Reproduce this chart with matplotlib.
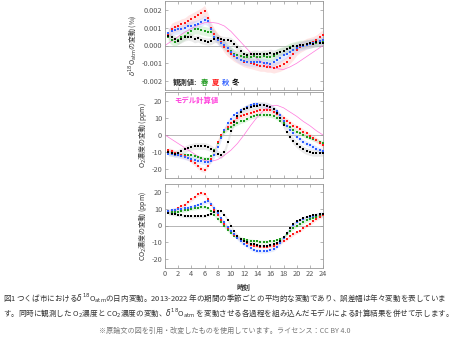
import numpy as np
import matplotlib
matplotlib.use("Agg")
import matplotlib.pyplot as plt

plt.rcParams['font.family'] = ['Noto Sans CJK JP', 'DejaVu Sans']
plt.rcParams['mathtext.fontset'] = 'dejavusans'

# 時刻 (0.5 時間ごと)
hours = np.arange(0.5, 24.01, 0.5)
model_hours = np.arange(0, 25, 1)

seasons = ['春', '夏', '秋', '冬']
colors = ['#1f9a1f', '#ff1a1a', '#2f5fff', '#000000']
band_colors = ['#9be09b', '#ffaaaa', '#a8c0ff', '#bbbbbb']

# δ18Oatm の変動 (x 1e-3 ‰)
d18_spring = [0.45, 0.3, 0.2, 0.3, 0.45, 0.55, 0.7, 0.8, 0.9, 0.9, 0.85, 0.82,
              0.78, 0.75, 0.65, 0.4, 0.2, 0.0, -0.15, -0.3, -0.45, -0.55, -0.6, -0.62,
              -0.65, -0.62, -0.6, -0.65, -0.62, -0.6, -0.62, -0.65, -0.6, -0.45, -0.35, -0.3,
              -0.2, -0.1, -0.05, 0.0, 0.05, 0.05, 0.1, 0.1, 0.15, 0.15, 0.2, 0.2]
d18_summer = [0.62, 0.95, 1.05, 1.1, 1.2, 1.25, 1.4, 1.5, 1.6, 1.7, 1.8, 1.95,
              1.55, 1.0, 0.65, 0.4, 0.2, -0.1, -0.3, -0.45, -0.6, -0.7, -0.8, -0.9,
              -0.95, -1.0, -1.05, -1.1, -1.15, -1.15, -1.2, -1.2, -1.25, -1.2, -1.15, -1.05,
              -0.9, -0.7, -0.5, -0.25, -0.1, 0.0, 0.1, 0.15, 0.2, 0.3, 0.45, 0.6]
d18_autumn = [0.7, 0.8, 0.85, 0.9, 0.9, 1.0, 1.08, 1.12, 1.15, 1.2, 1.3, 1.45,
              1.35, 0.95, 0.5, 0.3, 0.15, 0.05, -0.15, -0.35, -0.55, -0.7, -0.8, -0.85,
              -0.9, -0.92, -0.95, -0.95, -0.95, -0.97, -1.0, -1.05, -0.95, -0.8, -0.7, -0.55,
              -0.45, -0.35, -0.25, -0.15, -0.05, 0.0, 0.05, 0.1, 0.15, 0.2, 0.25, 0.3]
d18_winter = [0.55, 0.45, 0.35, 0.25, 0.35, 0.45, 0.5, 0.45, 0.35, 0.4, 0.3, 0.25,
              0.22, 0.25, 0.35, 0.4, 0.35, 0.3, 0.3, 0.25, 0.1, -0.1, -0.3, -0.5,
              -0.55, -0.5, -0.45, -0.45, -0.5, -0.45, -0.45, -0.4, -0.45, -0.4, -0.35, -0.3,
              -0.2, -0.15, -0.05, 0.0, 0.05, 0.05, 0.1, 0.15, 0.1, 0.2, 0.15, 0.15]
d18_model = [0, 0.25, 0.5, 0.75, 0.95, 1.15, 1.28, 1.3, 1.25, 1.1, 0.8, 0.4, 0.0,
             -0.4, -0.75, -1.0, -1.2, -1.3, -1.35, -1.2, -1.0, -0.75, -0.5, -0.25, 0]
d18_err = [0.25, 0.3, 0.25, 0.2]

# O2 濃度の変動 (ppm)
o2_spring = [-10, -10.5, -11, -11, -11.5, -11.5, -12, -12, -12.5, -13, -13.5, -14,
             -14, -12.5, -9, -4.5, -0.5, 2, 3.5, 5, 6, 7, 8, 8.5,
             9.5, 10.5, 11, 11.5, 11.8, 12, 11.8, 11.5, 11, 10, 8.5, 7,
             5.5, 4.5, 3, 2, 1, 0, -1, -1.5, -2.5, -3, -4, -4.5]
o2_summer = [-9, -9.5, -10.5, -11, -12, -12.5, -13.5, -15, -16.5, -18.5, -20, -20.5,
             -18, -14, -9.5, -4, 0, 3, 5, 7, 8.5, 10, 11, 11.5,
             12.5, 13, 13.8, 14.2, 14.5, 14.8, 14.8, 14.5, 13.5, 12.5, 11.5, 10,
             8.5, 7, 5.5, 4.5, 3.5, 2, 1, -0.5, -1.5, -3, -4.5, -6]
o2_autumn = [-11, -11, -11.5, -12, -12.5, -13, -13.5, -14, -14.5, -15, -15.5, -16,
             -16, -15, -12, -7, -2, 3, 7, 9.5, 11.5, 13, 14.5, 15.5,
             16.5, 17.5, 18, 18, 17.8, 17.5, 17, 16.5, 15.5, 14, 11.5, 8.5,
             5.5, 3, 1, -1, -2.5, -4, -5, -6, -7, -8, -9, -9.5]
o2_winter = [-10, -10.5, -11, -10.5, -9.5, -8.5, -7.5, -7, -6.5, -6.5, -6.5, -6.5,
             -7, -8, -9.5, -11, -12, -10, -4, 2.5, 7.5, 11, 13.5, 15,
             16, 16.5, 17, 17.3, 17.5, 17.5, 17.3, 16.5, 15, 13, 10, 6,
             2, -1, -3.5, -5.5, -7, -8.5, -9.5, -10, -10.5, -10.5, -10.5, -10.5]
o2_model = [0, -2.5, -5, -7.5, -10, -12.5, -15, -15.5, -14.5, -12, -9, -5, 0,
            5.5, 10.5, 14.5, 17, 17.5, 16, 13.5, 11, 8, 5.5, 2.5, 0]
o2_err = [1.2, 1.5, 1.5, 2.0]

# CO2 濃度の変動 (ppm)
co2_spring = [7.5, 7.8, 8, 8.3, 8.6, 9, 9.5, 10, 10.3, 10.6, 11, 11,
              10.3, 8.5, 6.5, 4, 2, -0.5, -2.5, -4.5, -6, -7, -7.8, -8.3,
              -8.7, -9, -9.3, -9.5, -9.6, -9.6, -9.6, -9.5, -9.3, -8.8, -8, -7,
              -5, -3, -1.5, 0, 1, 2, 3, 3.8, 4.5, 5.2, 5.8, 6.2]
co2_summer = [8.5, 9, 9.5, 10.5, 11.5, 12.5, 14, 15.5, 17, 18.5, 19.3, 19,
              16, 12.5, 9, 6, 3.5, 1, -1.5, -3.5, -5.5, -7, -8.5, -9.5,
              -10.5, -11.5, -12, -12.3, -12.5, -12.5, -12.5, -12.3, -12, -11, -10, -9,
              -8, -6.5, -5, -4, -3, -1.5, 0, 1, 2.5, 4, 5, 6]
co2_autumn = [8.5, 9, 9.5, 9.8, 10, 10.3, 10.6, 11, 11.5, 12, 13, 14,
              14.5, 13, 10.5, 7.5, 4.5, 2, -1, -3, -5, -7.5, -9.5, -11,
              -12, -13.5, -14.5, -15, -15.2, -15.2, -15, -14.5, -14, -12.5, -10.5, -7.5,
              -4.5, -1.5, 0.5, 2, 3, 4, 4.8, 5.2, 5.8, 6.3, 6.8, 7]
co2_winter = [7.2, 7, 6.6, 6.3, 6, 5.8, 5.6, 5.5, 5.5, 5.5, 5.6, 5.8,
              6.3, 7, 8, 8.7, 8.5, 6.5, 3.5, 0, -3.5, -6, -7.8, -9,
              -10, -10.8, -11.3, -11.7, -12, -12, -12, -11.8, -11.3, -10.5, -9, -7,
              -4.5, -1.5, 1, 2.5, 3.5, 4.3, 5, 5.5, 6, 6.3, 6.6, 6.8]
co2_err = [1.0, 1.0, 1.2, 1.0]

d18_obs = [d18_spring, d18_summer, d18_autumn, d18_winter]
o2_obs = [o2_spring, o2_summer, o2_autumn, o2_winter]
co2_obs = [co2_spring, co2_summer, co2_autumn, co2_winter]

model_color = '#ff77dd'
spine_color = '#999999'
tick_color = '#555555'

fig = plt.figure(figsize=(4.5, 3.38), dpi=100)
W, H = 450.0, 338.0


def make_axes(top, bottom):
    return fig.add_axes([165 / W, 1 - bottom / H, 158 / W, (bottom - top) / H])


def style_axes(ax, ylim, yticks, fmt):
    ax.set_xlim(0, 24)
    ax.set_ylim(*ylim)
    ax.set_xticks(np.arange(0, 25, 2))
    ax.set_yticks(yticks)
    ax.set_yticklabels([fmt.format(v) for v in yticks])
    ax.axhline(0, color='#aaaaaa', lw=0.6, zorder=0)
    for s in ax.spines.values():
        s.set_color(spine_color)
        s.set_linewidth(0.6)
    ax.tick_params(direction='in', top=True, right=True, length=2.5, width=0.5,
                   color=spine_color, labelsize=5.3, labelcolor=tick_color, pad=2)


def draw_obs(ax, series, errs, scale=1.0):
    for vals, err, c, bc in zip(series, errs, colors, band_colors):
        v = np.array(vals) * scale
        ax.fill_between(hours, v - err * scale, v + err * scale, color=bc,
                        alpha=0.3, lw=0, zorder=1)
        ax.plot(hours, v, 's', ms=1.9, color=c, mew=0, zorder=3)


# 上段: δ18Oatm
ax1 = make_axes(1, 90)
draw_obs(ax1, d18_obs, d18_err, 1e-3)
ax1.plot(model_hours, np.array(d18_model) * 1e-3, color=model_color, lw=0.5, zorder=2)
style_axes(ax1, (-0.0025, 0.0025), [0.002, 0.001, 0.0, -0.001, -0.002], '{:.3f}')
ax1.set_xticklabels([])
ax1.set_ylabel(r'$\delta^{18}$O$_{\rm atm}$の変動 (‰)', fontsize=5, color='#333333', labelpad=2)

# 凡例テキスト
x0 = 0.05
legend_parts = [('観測値:', '#333333'), ('春', colors[0]), ('夏', colors[1]),
                ('秋', colors[2]), ('冬', colors[3])]
offsets = [0.0, 0.18, 0.245, 0.31, 0.375]
for (txt, c), off in zip(legend_parts, offsets):
    ax1.text(x0 + off, 0.04, txt, transform=ax1.transAxes, fontsize=5.3,
             color=c, fontweight='bold', va='bottom')

# 中段: O2
ax2 = make_axes(92.5, 177.5)
draw_obs(ax2, o2_obs, o2_err)
ax2.plot(model_hours, o2_model, color=model_color, lw=0.5, zorder=2)
style_axes(ax2, (-25, 25), [20, 10, 0, -10, -20], '{:d}')
ax2.set_xticklabels([])
ax2.set_ylabel(r'O$_2$濃度の変動 (ppm)', fontsize=5, color='#333333', labelpad=2)
ax2.text(0.06, 0.88, 'モデル計算値', transform=ax2.transAxes, fontsize=5.3,
         color='#ff44dd', fontweight='bold')

# 下段: CO2
ax3 = make_axes(183.5, 267.5)
draw_obs(ax3, co2_obs, co2_err)
style_axes(ax3, (-25, 25), [20, 10, 0, -10, -20], '{:d}')
ax3.set_ylabel(r'CO$_2$濃度の変動 (ppm)', fontsize=5, color='#333333', labelpad=2)
ax3.set_xlabel('時刻', fontsize=5, color='#333333', fontweight='bold', labelpad=4)

# キャプション
cap1 = (r'図1 つくば市における$\delta^{18}$O$_{\rm atm}$の日内変動。2013-2022 年の期間の季節ごとの平均的な変動であり、'
        '誤差幅は年々変動を表していま')
cap2 = (r'す。同時に観測した O$_2$濃度と CO$_2$濃度の変動、$\delta^{18}$O$_{\rm atm}$ を変動させる各過程を組み込んだ'
        'モデルによる計算結果を併せて示します。')
cap3 = '※原論文の図を引用・改変したものを使用しています。ライセンス：CC BY 4.0'
fig.text(3 / W, 1 - 298 / H, cap1, fontsize=5.45, color='#333333', va='center', ha='left')
fig.text(3 / W, 1 - 313 / H, cap2, fontsize=5.45, color='#333333', va='center', ha='left')
fig.text(0.5, 1 - 331 / H, cap3, fontsize=5.1, color='#777777', va='center', ha='center')

fig.savefig('out.png', dpi=100)
